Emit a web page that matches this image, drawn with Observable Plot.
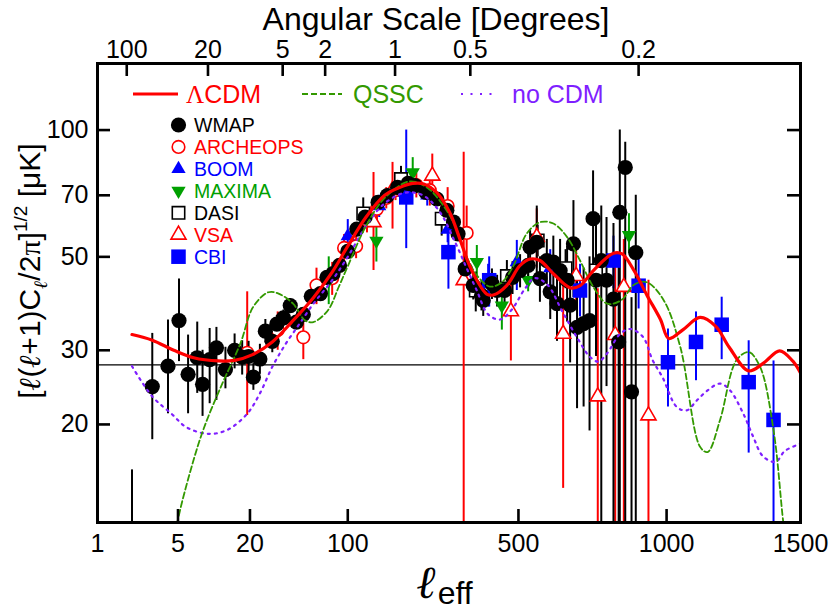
<!DOCTYPE html>
<html><head><meta charset="utf-8">
<script src="https://cdn.jsdelivr.net/npm/d3@7"></script>
<script src="https://cdn.jsdelivr.net/npm/@observablehq/plot@0.6"></script>
<style>body{margin:0;background:#fff}</style>
</head><body><div id="chart"></div>
<script>
// ---------- axis ticks ----------
const bottomTickEll = [1, 5, 20, 100, 500, 1000, 1500];
const bottomTickLabels = ["1", "5", "20", "100", "500", "1000", "1500"];
const topTickEll = [1.8, 9, 36, 72, 180, 360, 900];
const topTickLabels = ["100", "20", "5", "2", "1", "0.5", "0.2"];
const yTicks = [20, 30, 50, 70, 100];
const yDomain = [11.7, 143.9];
const refLevel = [27.7];

// ---------- model curves ----------
const lcdmEll = [2, 3, 4.6, 6.8, 11, 15, 21, 30, 42, 60, 80, 100, 127, 160, 190, 217, 242, 273, 305, 330, 355, 378, 406, 425, 465, 505, 536, 567, 610, 665, 698, 743, 812, 842, 883, 930, 978, 1008, 1060, 1122, 1180, 1230, 1303, 1360, 1420, 1470, 1500];
const lcdmDT  = [32.7, 31.7, 30.0, 28.8, 28.3, 28.4, 29.3, 31.4, 35, 40, 46, 53, 62, 70, 73.1, 74.7, 74.5, 71, 63.8, 55.7, 48.3, 44, 40.8, 40.6, 42.8, 47.7, 49.4, 49, 45.6, 42.2, 42.7, 46.4, 51, 50.8, 46.5, 40.5, 35.5, 32, 33.6, 35.9, 34.2, 30.5, 26.8, 28, 29.9, 28.3, 26.5];

const qsscEll = [4.5, 5, 6.3, 8.2, 11.5, 16.7, 21.2, 28, 33.5, 43, 52.6, 60, 75, 88, 100, 127, 160, 210, 250, 290, 320, 350, 380, 415, 450, 485, 525, 567, 610, 655, 698, 743, 790, 840, 885, 930, 990, 1050, 1122, 1150, 1196, 1257, 1303, 1346, 1397, 1435, 1460];
const qsscDT  = [10, 11.9, 15.3, 19.4, 24.5, 31.1, 38, 41.2, 40.9, 38.7, 35.3, 35, 37.3, 42.4, 47.5, 59, 69, 75.5, 73, 66, 59, 50, 45, 42.5, 43.5, 47.7, 56.7, 60.4, 60, 55.7, 49, 42.4, 38.7, 39.5, 43, 43.5, 39.4, 30.5, 17.7, 17.2, 20.5, 28.4, 29.7, 27.4, 19.4, 11.6, 9];

const nocdmEll = [2, 3, 4.4, 5.9, 9, 13, 19, 24, 30, 38, 48, 60, 80, 100, 130, 160, 200, 240, 280, 320, 350, 378, 410, 445, 480, 520, 550, 590, 640, 690, 730, 760, 790, 835, 870, 915, 950, 985, 1037, 1073, 1110, 1150, 1196, 1233, 1283, 1320, 1357, 1405, 1440, 1500];
const nocdmDT  = [27.5, 23.3, 21.2, 19.7, 19.0, 19.4, 21.2, 23.7, 27.4, 31.1, 34.7, 38.7, 44, 50, 60, 67, 71, 70, 64, 54, 47, 41.6, 36.5, 35.5, 37.5, 42, 44.5, 43, 37, 32, 29, 28.2, 29.5, 32.8, 33.7, 32.3, 28.4, 25.9, 22, 21.6, 22.8, 24.1, 25, 24.1, 21.2, 18.7, 16.8, 16.3, 17.3, 18];

// ---------- data points ----------
const wmapEll = [2,3,4.1,5.1,6.1,7.3,8.1,9.3,10.6,12.6,15,17.3,19.5,21.3,24,26.5,30,32.5,36.5,41,45.5,51,58,67,74,81,89,100,113,126,148,165,185,207,222,247,273,298,315,327,346,368,391,396,421,436,458,482,505,530,536,557,567,589,600,610,622,632,655,665,676,688,710,730,742,752,770,788,812,830,834,853,875,890];
const wmapDT  = [11.0,24.6,27.5,35.3,26.3,28.8,24.9,28.5,30.4,27.0,30.0,28.9,29.0,25.9,28.6,33.3,31.5,34.6,35.8,38.3,35.0,36.5,40.3,40.9,44.7,45.6,47.7,51.5,58.2,62.1,67.4,69.9,73.1,74.7,73.8,71.1,68.6,64.5,60.5,56.7,46.8,42.8,40.5,39.4,43.2,41.6,41.6,44.7,46.4,47.7,52.7,54.1,44.4,49.0,41.3,48.6,38.7,46.4,44.0,38.4,53.7,34.0,34.7,35.3,61.6,44.0,49.0,44.0,39.7,31.4,63.8,81.5,23.9,51.2];
const wmapLo  = [6,18.4,21.2,28.2,21.2,23.7,20.9,22.4,22.8,24.3,27.1,26.2,26.5,24.1,26.3,31.2,29.6,33.0,34.2,36.8,33.6,35.2,39.0,39.6,43.4,44.3,46.4,50.2,56.9,60.8,66.1,68.6,71.8,73.4,72.5,69.8,67.2,62.8,58.6,54.6,43.5,39.5,37.2,36.1,39.6,38.0,37.8,40.7,42.2,43.3,47.7,45,39,43,35.5,41.5,31.5,38,35,28,40,21.8,22,19.3,45,29,10,24.6,10,10,10,10,10,10];
const wmapHi  = [15.6,32.9,35.4,44.3,32.6,35,30,33.8,34,30.5,32.8,31.6,31.5,27.9,31.0,35.5,33.4,36.3,37.4,39.8,36.4,37.8,41.6,42.2,46.0,46.9,49.0,52.8,59.5,63.4,68.7,71.2,74.4,76.0,75.1,72.4,70.0,66.2,62.4,58.8,50.1,46.1,43.8,42.7,46.8,45.2,45.4,48.7,50.6,52.1,57.7,66,50,55,47,56,46,55,53,48,68,46,47,50,80,60,66,62,60,50,100,93.5,40,70];

const archEll = [19,33,51,63,80,95,112,129,146,163,181,200,225,256,300,350];
const archDT  = [29.6,33.5,32.2,42.8,44.5,52.5,53,61,65,69,72,73.5,74,72,66,57];
const archLo  = [21,30,28.5,38.5,40.5,48.5,49.5,57,61,65,68,69,69,66,58,47];
const archHi  = [41.3,37,35.3,47,48.5,56.5,56.5,65,69,73,76,78,79,78,73,66];

const boomEll = [100,150,200,250,300,410,495,600];
const boomDT  = [56,66,71,70,58,43,48.6,47];
const boomLo  = [51,62,67,66,54,38,41.6,42];
const boomHi  = [61.3,70,75,74,62,48,54.7,52];

const maximaEll = [76,145,217,378,450,530,866];
const maximaDT  = [44,54.6,79.3,48.6,38.3,44,56.3];
const maximaLo  = [38.5,48.6,72,41.6,33.5,41.3,50.9];
const maximaHi  = [50,59.3,86,53.2,43.2,47.7,63.3];

const dasiEll = [123,192,285,375,465,560,650,752];
const dasiDT  = [63.4,76.5,61.6,41.6,45,54.7,47,46.4];
const dasiLo  = [58,71,56,37,41,50,42,41];
const dasiHi  = [69,82,67,46,49,59.5,52,52];

const vsaEll = [140,175,262,342,477,557,642,685,758,818,848,935];
const vsaDT  = [60.4,72,77.9,44,37.1,55.7,32.8,45,23.3,32.6,42.4,21.0];
const vsaLo  = [46.4,58.2,70,10,28.3,47,14.1,38,10,10,10,10];
const vsaHi  = [79.3,83.8,87.7,88.6,45,65,45,52,42,50,55,44];

const cbiEll = [203,302,413,698,812,900,1005,1107,1202,1303,1397];
const cbiDT  = [69.2,51.3,44,41.6,49,42.7,28.1,31.4,34.5,25.2,20.5];
const cbiLo  = [52.3,41.9,38,36,42,37.6,22,25.4,28.5,17.1,8];
const cbiHi  = [100,56.7,50,48,56,50,33.7,37,40.1,31.6,28.3];

// ---------- helpers ----------
// horizontal axis is log(l) stretched by a linear term: u = log10(l) + l/500
const u = l => Math.log10(l) + l / 500;
const zip = (ell, dT, lo, hi) => ell.map((l, i) => ({l, v: dT[i], lo: lo ? lo[i] : null, hi: hi ? hi[i] : null}));
const curve = (ell, dT) => ell.map((l, i) => ({l, v: dT[i]}));

const RED = "#ff0000", GREEN = "#339900", PURPLE = "#7f1fff", BLUE = "#0000ff", MGREEN = "#00a000";
const FONT = "'Liberation Sans', Arial, Helvetica, sans-serif";
const ELLFONT = "'DejaVu Serif', serif";
const SERIF = "'Liberation Serif', 'DejaVu Serif', serif";

const series = [
  {name: "WMAP",     data: zip(wmapEll, wmapDT, wmapLo, wmapHi),         color: "black", symbol: "circle",   fill: "black", r: 7.6, rotate: 0},
  {name: "ARCHEOPS", data: zip(archEll, archDT, archLo, archHi),         color: RED,     symbol: "circle",   fill: "white", r: 6.3, rotate: 0},
  {name: "BOOM",     data: zip(boomEll, boomDT, boomLo, boomHi),         color: BLUE,    symbol: "triangle", fill: BLUE,    r: 5.3, rotate: 0},
  {name: "MAXIMA",   data: zip(maximaEll, maximaDT, maximaLo, maximaHi), color: MGREEN,  symbol: "triangle", fill: MGREEN,  r: 5.3, rotate: 180},
  {name: "DASI",     data: zip(dasiEll, dasiDT, dasiLo, dasiHi),         color: "black", symbol: "square",   fill: "white", r: 7.0, rotate: 0},
  {name: "VSA",      data: zip(vsaEll, vsaDT, vsaLo, vsaHi),             color: RED,     symbol: "triangle", fill: "white", r: 5.6, rotate: 0},
  {name: "CBI",      data: zip(cbiEll, cbiDT, cbiLo, cbiHi),             color: BLUE,    symbol: "square",   fill: BLUE,    r: 8.2, rotate: 0}
];
const drawOrder = ["ARCHEOPS", "BOOM", "MAXIMA", "DASI", "VSA", "CBI", "WMAP"];

const yMin = yDomain[0], yMax = yDomain[1];
const tickUy = Math.pow(10, 13 / 422);          // ~13px along the log y axis
const tickUx = 13 / 113.8;                      // ~13px along the x axis
const bottomLabelOf = new Map(bottomTickEll.map((l, i) => [u(l), bottomTickLabels[i]]));
const topLabelOf = new Map(topTickEll.map((l, i) => [u(l), topTickLabels[i]]));

// ---------- legend / titles (render function) ----------
function annotations(index, scales, values, dims) {
  const g = d3.create("svg:g").attr("font-family", FONT).attr("text-anchor", "start");
  const ly = 94;
  g.append("line").attr("x1", 133).attr("x2", 178).attr("y1", ly).attr("y2", ly).attr("stroke", RED).attr("stroke-width", 3);
  const t1 = g.append("text").attr("x", 186).attr("y", ly + 9).attr("font-size", 25).attr("fill", RED);
  t1.append("tspan").attr("font-family", SERIF).text("Λ");
  t1.append("tspan").text("CDM");
  g.append("line").attr("x1", 302).attr("x2", 342).attr("y1", ly).attr("y2", ly).attr("stroke", GREEN).attr("stroke-width", 2).attr("stroke-dasharray", "6,3");
  g.append("text").attr("x", 353).attr("y", ly + 9).attr("font-size", 25).attr("fill", GREEN).text("QSSC");
  g.append("line").attr("x1", 461).attr("x2", 499).attr("y1", ly).attr("y2", ly).attr("stroke", PURPLE).attr("stroke-width", 2.2).attr("stroke-dasharray", "2,7.5");
  g.append("text").attr("x", 512).attr("y", ly + 9).attr("font-size", 25).attr("fill", PURPLE).text("no CDM");
  const symbols = {circle: d3.symbolCircle, triangle: d3.symbolTriangle, square: d3.symbolSquare};
  series.forEach((s, i) => {
    const y = 125 + i * 21.95;
    g.append("path")
      .attr("d", d3.symbol(symbols[s.symbol], Math.PI * s.r * s.r)())
      .attr("transform", `translate(178.5,${y}) rotate(${s.rotate})`)
      .attr("fill", s.fill).attr("stroke", s.color).attr("stroke-width", s.fill === "white" ? 1.6 : 0);
    g.append("text").attr("x", 194).attr("y", y + 7).attr("font-size", 19.5).attr("fill", s.color).text(s.name);
  });
  g.append("text").attr("x", 436).attr("y", 30)
    .attr("text-anchor", "middle").attr("font-size", 32).text("Angular Scale [Degrees]");
  const xt = g.append("text").attr("x", 417).attr("y", 598);
  xt.append("tspan").attr("font-family", ELLFONT).attr("font-style", "italic").attr("font-weight", "bold").attr("font-size", 46).text("ℓ");
  xt.append("tspan").attr("font-size", 32).attr("dx", 1).attr("dy", 6).text("eff");
  const yt = g.append("text").attr("transform", "translate(40,271) rotate(-90)").attr("text-anchor", "middle").attr("font-size", 30);
  const ell = (sel, size) => sel.append("tspan").attr("font-family", ELLFONT).attr("font-style", "italic").attr("font-weight", "bold").attr("font-size", size).text("ℓ");
  yt.append("tspan").text("[");
  ell(yt, 30);
  yt.append("tspan").text("(");
  ell(yt, 30);
  yt.append("tspan").text("+1)C");
  ell(yt, 19).attr("dy", 7);
  yt.append("tspan").attr("dy", -7).text("/2");
  yt.append("tspan").attr("font-family", SERIF).text("π");
  yt.append("tspan").text("]");
  yt.append("tspan").attr("font-size", 19).attr("dy", -13).text("1/2");
  yt.append("tspan").attr("dy", 13).text(" [μK]");
  return g.node();
}

// ---------- marks ----------
const marks = [];
marks.push(Plot.ruleY(refLevel, {stroke: "black", strokeWidth: 1.3}));
for (const name of drawOrder) {
  const s = series.find(d => d.name === name);
  marks.push(Plot.ruleX(s.data, {x: d => u(d.l), y1: "lo", y2: "hi", stroke: s.color, strokeWidth: 2, clip: true}));
}
for (const name of drawOrder) {
  const s = series.find(d => d.name === name);
  marks.push(Plot.dot(s.data, {x: d => u(d.l), y: "v", symbol: s.symbol, r: s.r, rotate: s.rotate,
    fill: s.fill, stroke: s.color, strokeWidth: s.fill === "white" ? 1.6 : 0, clip: true}));
}
marks.push(Plot.line(curve(nocdmEll, nocdmDT), {x: d => u(d.l), y: "v", stroke: PURPLE, strokeWidth: 2.2, strokeDasharray: "2,5", curve: "catmull-rom", clip: true}));
marks.push(Plot.line(curve(qsscEll, qsscDT), {x: d => u(d.l), y: "v", stroke: GREEN, strokeWidth: 1.8, strokeDasharray: "6,3", curve: "catmull-rom", clip: true}));
marks.push(Plot.line(curve(lcdmEll, lcdmDT), {x: d => u(d.l), y: "v", stroke: RED, strokeWidth: 3.2, curve: "catmull-rom", clip: true}));
marks.push(Plot.ruleX(bottomTickEll, {x: l => u(l), y1: yMin, y2: yMin * tickUy, stroke: "black", strokeWidth: 2.6}));
marks.push(Plot.ruleX(topTickEll, {x: l => u(l), y1: yMax, y2: yMax / tickUy, stroke: "black", strokeWidth: 2.6}));
marks.push(Plot.ruleY(yTicks, {x1: u(1), x2: u(1) + tickUx, stroke: "black", strokeWidth: 2.6}));
marks.push(Plot.ruleY(yTicks, {x1: u(1500) - tickUx, x2: u(1500), stroke: "black", strokeWidth: 2.6}));
marks.push(Plot.axisX(bottomTickEll.map(u), {anchor: "bottom", tickSize: 0, tickPadding: 12, fontSize: 25, label: null, tickFormat: d => bottomLabelOf.get(d)}));
marks.push(Plot.axisX(topTickEll.map(u), {anchor: "top", tickSize: 0, tickPadding: 6, fontSize: 25, label: null, tickFormat: d => topLabelOf.get(d)}));
marks.push(Plot.axisY(yTicks, {anchor: "left", tickSize: 0, tickPadding: 9, fontSize: 25, label: null, tickFormat: d => String(d)}));
marks.push(Plot.frame({stroke: "black", strokeWidth: 3}));
marks.push(annotations);

const chart = Plot.plot({
  width: 830, height: 612,
  marginLeft: 97, marginRight: 30, marginTop: 63, marginBottom: 90,
  style: {fontFamily: FONT, background: "white", color: "black", overflow: "visible"},
  x: {type: "linear", domain: [u(1), u(1500)], label: null, axis: null},
  y: {type: "log", domain: yDomain, label: null, axis: null},
  marks
});
document.getElementById("chart").append(chart);
</script></body></html>
